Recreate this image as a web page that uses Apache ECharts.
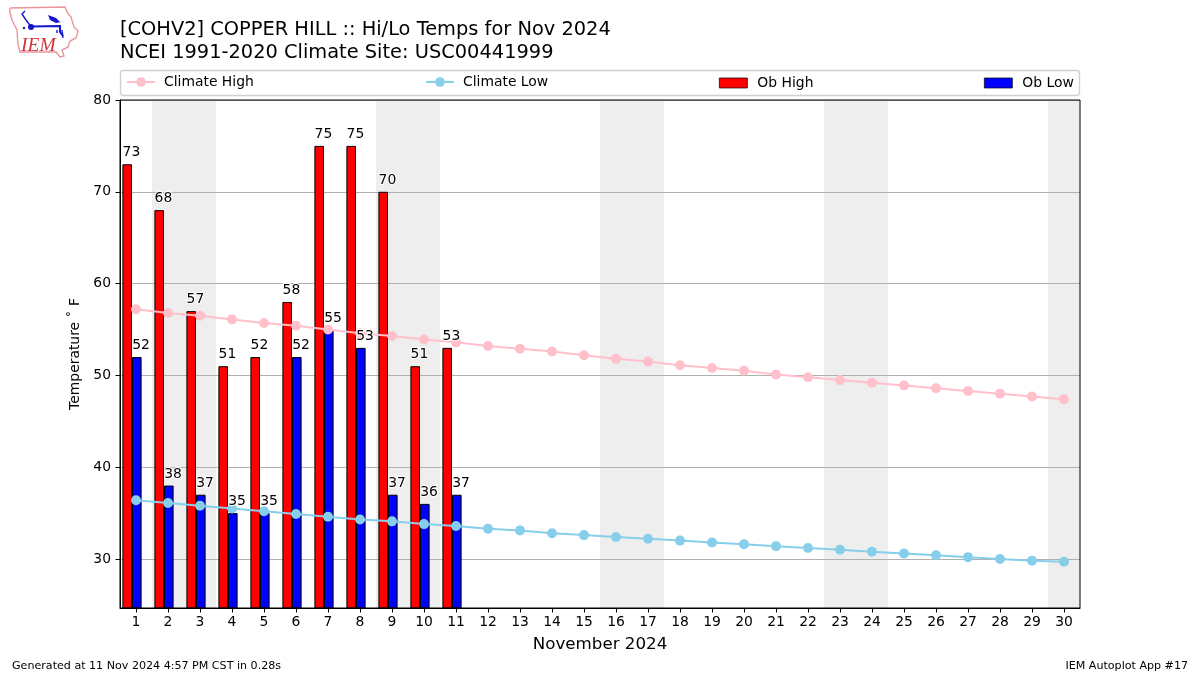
<!DOCTYPE html>
<html><head><meta charset="utf-8">
<style>html,body{margin:0;padding:0;background:#fff}#c{width:1200px;height:675px}</style>
<script src="https://cdn.jsdelivr.net/npm/echarts@6/dist/echarts.min.js"></script>
</head><body><div id="c"></div>
<script>
const days = ['1','2','3','4','5','6','7','8','9','10','11','12','13','14','15','16','17','18','19','20','21','22','23','24','25','26','27','28','29','30'];
const obHigh = [73,68,57,51,52,58,75,75,70,51,53];
const obLow = [52,38,37,35,35,52,55,53,37,36,37];
const climateHigh = [57.2,56.8,56.5,56.1,55.7,55.4,55.0,54.6,54.3,53.9,53.6,53.2,52.9,52.6,52.2,51.8,51.5,51.1,50.8,50.5,50.1,49.8,49.5,49.2,48.9,48.6,48.3,48.0,47.7,47.4];
const climateLow = [36.4,36.1,35.8,35.5,35.2,34.9,34.6,34.3,34.1,33.8,33.6,33.3,33.1,32.8,32.6,32.4,32.2,32.0,31.8,31.6,31.4,31.2,31.0,30.8,30.6,30.4,30.2,30.0,29.8,29.7];
const yTicks = [30,40,50,60,70,80];
const weekendBands = [[1.5,3.5],[8.5,10.5],[15.5,17.5],[22.5,24.5],[29.5,30.5]];
const F = 'DejaVu Sans';
const dataLabel = dx => ({show:true,position:'top',distance:4.5,offset:[dx,0],color:'#000',opacity:1,fontFamily:F,fontSize:13.9,textBorderColor:'#fff',textBorderWidth:2});
const lineLegend = (name,left) => ({data:[{name}],left,top:75,orient:'horizontal',padding:0,itemWidth:28,itemHeight:12,
  textStyle:{fontFamily:F,fontSize:13.9,color:'#000',padding:[0,0,0,4]}});
const barLegend = (name,left) => ({data:[{name,icon:'rect',itemStyle:{borderWidth:0.7}}],left,top:76,orient:'horizontal',padding:0,itemWidth:28,itemHeight:10,
  textStyle:{fontFamily:F,fontSize:13.9,color:'#000',padding:[0,0,0,5]}});
const chart = echarts.init(document.getElementById('c'),null,{renderer:'canvas'});
chart.setOption({
  animation:false,
  backgroundColor:'#fff',
  title:[
    {text:'[COHV2] COPPER HILL :: Hi/Lo Temps for Nov 2024\nNCEI 1991-2020 Climate Site: USC00441999',left:120,top:19,padding:0,
      textStyle:{fontFamily:F,fontSize:19.4,fontWeight:'normal',color:'#000',lineHeight:22.5}},
    {text:'Generated at 11 Nov 2024 4:57 PM CST in 0.28s',left:12,top:661,padding:0,textStyle:{fontFamily:F,fontSize:11.1,fontWeight:'normal',color:'#000'}},
    {text:'IEM Autoplot App #17',right:12,top:661,padding:0,textStyle:{fontFamily:F,fontSize:11.1,fontWeight:'normal',color:'#000'}}
  ],
  legend:[lineLegend('Climate High',126),lineLegend('Climate Low',425),barLegend('Ob High',719),barLegend('Ob Low',984)],
  grid:{left:120,top:100,width:960,height:508,show:true,borderColor:'#000',borderWidth:1,backgroundColor:'transparent',z:5,containLabel:false},
  xAxis:[
    {type:'category',data:days,boundaryGap:true,name:'November 2024',nameLocation:'middle',nameGap:28,
      nameTextStyle:{fontFamily:F,fontSize:16.7,color:'#000'},
      axisLine:{lineStyle:{color:'#000',width:1}},
      axisTick:{show:true,alignWithLabel:true,length:4.5,lineStyle:{color:'#000'}},
      axisLabel:{interval:0,fontFamily:F,fontSize:13.9,color:'#000',margin:7},splitLine:{show:false}},
    {type:'value',min:0.5,max:30.5,show:false,splitLine:{show:false}}
  ],
  yAxis:{type:'value',min:24.66,max:80,z:1,name:'Temperature ˚ F',nameLocation:'middle',nameGap:36,nameRotate:90,
    nameTextStyle:{fontFamily:F,fontSize:13.9,color:'#000'},
    axisLine:{show:true,lineStyle:{color:'#000'}},
    axisTick:{show:true,length:4.5,lineStyle:{color:'#000'},customValues:yTicks},
    axisLabel:{fontFamily:F,fontSize:13.9,color:'#000',margin:9,padding:[3,0,0,0],customValues:yTicks},
    splitLine:{show:true,lineStyle:{color:'#b0b0b0',width:1}}},
  series:[
    {name:'Weekend',type:'line',xAxisIndex:1,data:[],z:0,silent:true,
      markArea:{silent:true,z:0,itemStyle:{color:'#eeeeee'},data:weekendBands.map(b=>[{xAxis:b[0]},{xAxis:b[1]}])}},
    {name:'Ob High',type:'bar',data:obHigh,barWidth:9.6,barGap:0,z:2,itemStyle:{color:'#ff0000',borderColor:'#000',borderWidth:1}},
    {name:'Ob Low',type:'bar',data:obLow,barWidth:9.6,barGap:0,z:2,itemStyle:{color:'#0000ff',borderColor:'#000',borderWidth:1}},
    {name:'spacer',type:'bar',data:[],barWidth:8,barGap:0,z:2},
    {name:'Climate High',type:'line',data:climateHigh,z:3,symbol:'circle',symbolSize:10,showAllSymbol:true,lineStyle:{color:'#ffc0cb',width:2},itemStyle:{color:'#ffc0cb'}},
    {name:'Climate Low',type:'line',data:climateLow,z:3,symbol:'circle',symbolSize:10,showAllSymbol:true,lineStyle:{color:'#87ceeb',width:2},itemStyle:{color:'#87ceeb'}},
    {name:'High labels',type:'scatter',data:obHigh,z:4,symbolSize:0,silent:true,itemStyle:{opacity:1},label:dataLabel(-4.6)},
    {name:'Low labels',type:'scatter',data:obLow,z:4,symbolSize:0,silent:true,itemStyle:{opacity:1},label:dataLabel(5)}
  ],
  graphic:[
    {type:'rect',z:-1,shape:{x:120.5,y:70.5,width:959,height:25,r:3},style:{fill:'#fff',stroke:'#d0d0d0',lineWidth:1.4}},
    {type:'group',silent:true,children:[
      {type:'polyline',shape:{points:[[10,8],[65,7],[67,12],[71,17],[74,27],[78,31],[76,38],[70,41],[68,47],[62,50],[64,56],[60,57],[56,52],[20,52],[18,45],[17,30],[12,20],[10,13],[10,8]]},style:{fill:'none',stroke:'#e8969c',lineWidth:1.4}},
      {type:'polyline',shape:{points:[[31,26.5],[60,26],[60,32],[63,36]]},style:{fill:'none',stroke:'#1515d0',lineWidth:2}},
      {type:'polyline',shape:{points:[[31,26.5],[26,20],[22,14],[25,11]]},style:{fill:'none',stroke:'#1515d0',lineWidth:1.4}},
      {type:'polygon',shape:{points:[[48,15],[56,18],[60,22],[66,21],[56,23],[50,20]]},style:{fill:'#1515d0'}},
      {type:'circle',shape:{cx:31,cy:27,r:3},style:{fill:'#1515d0'}},
      {type:'circle',shape:{cx:24,cy:28,r:1.2},style:{fill:'#1515d0'}},
      {type:'polyline',shape:{points:[[57,30],[57,33]]},style:{fill:'none',stroke:'#1515d0',lineWidth:1.4}},
      {type:'polyline',shape:{points:[[62,30],[63,38]]},style:{fill:'none',stroke:'#1515d0',lineWidth:1.4}},
      {type:'text',x:21,y:36,style:{text:'IEM',font:'italic 19.5px "Liberation Serif"',fill:'#d0343c'}}
    ]}
  ]
});
</script></body></html>
